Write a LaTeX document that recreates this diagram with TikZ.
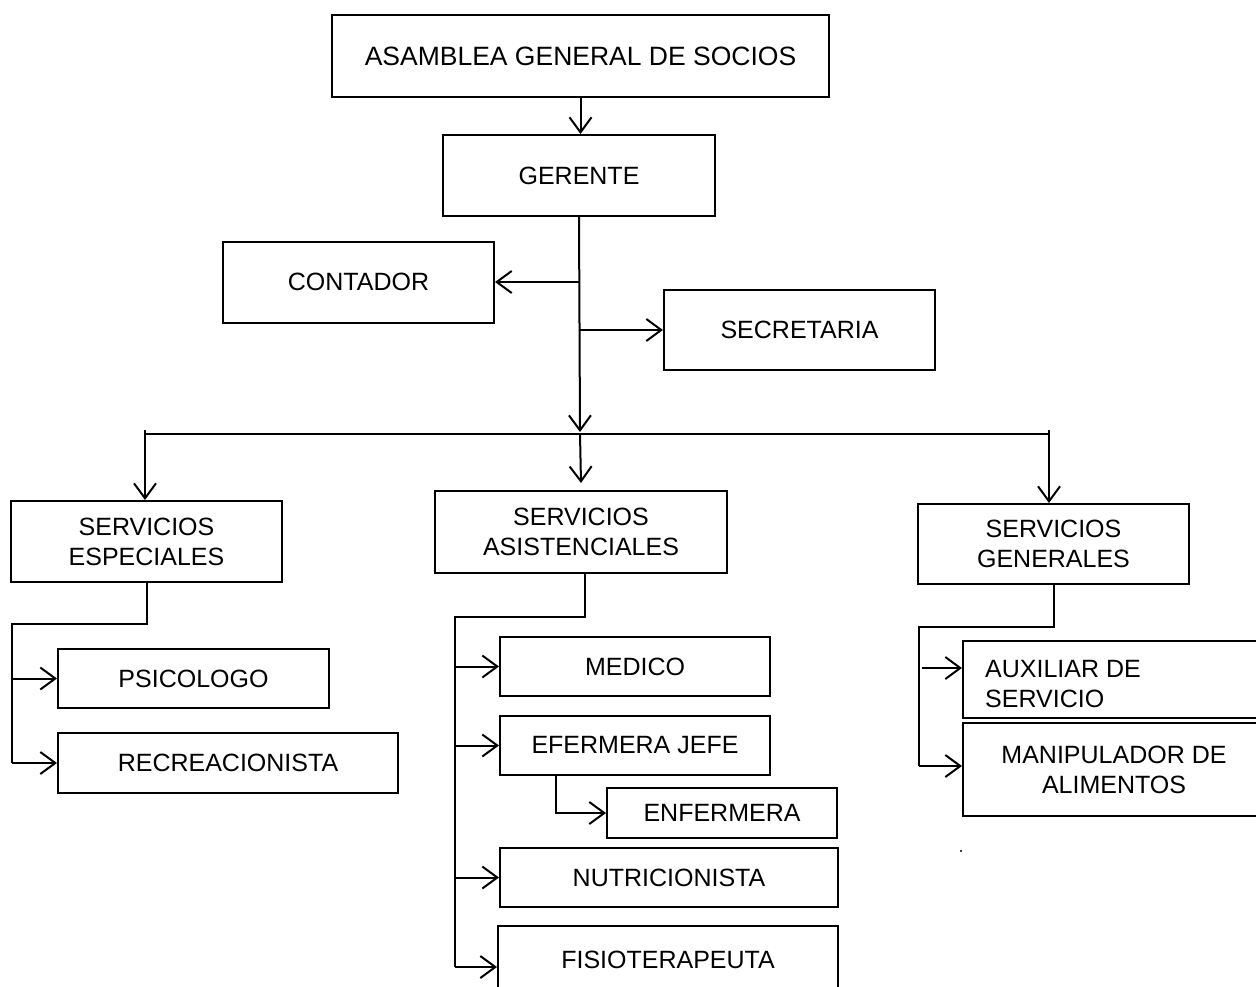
\documentclass[tikz,border=0pt]{standalone}
\usepackage{fontspec}
\setmainfont{Liberation Sans}
\usetikzlibrary{arrows.meta}
\tikzset{
  box/.style={draw, line width=2pt, inner sep=0pt, align=center, font=\fontsize{25}{30}\selectfont},
  txt/.style={inner sep=0pt, align=left, font=\fontsize{25}{30}\selectfont},
  conn/.style={line width=2pt},
  arr/.style={line width=2pt, -{Straight Barb[length=15pt,width=22pt]}},
}
\begin{document}
\begin{tikzpicture}[x=1pt,y=-1pt]
\useasboundingbox (0,0) rectangle (1256,986);
\clip (0,0) rectangle (1256,986);
\fill[white] (0,0) rectangle (1256,986);
% nodes
\node[box, minimum width=497, minimum height=82, font=\fontsize{26.5}{30}\selectfont] (asam) at (580.5,56) {ASAMBLEA GENERAL DE SOCIOS};
\node[box, minimum width=272, minimum height=81] (ger) at (579,175.5) {GERENTE};
\node[box, minimum width=271, minimum height=81] (cont) at (358.5,282) {CONTADOR};
\node[box, minimum width=271, minimum height=80] (sec) at (799.5,330) {SECRETARIA};
\node[box, minimum width=271, minimum height=81] (esp) at (146.5,541.5) {SERVICIOS\\ESPECIALES};
\node[box, minimum width=292, minimum height=82] (asis) at (581,532) {SERVICIOS\\ASISTENCIALES};
\node[box, minimum width=271, minimum height=80] (gen) at (1053.5,544) {SERVICIOS\\GENERALES};
\node[box, minimum width=271, minimum height=59] (psi) at (193.5,678.5) {PSICOLOGO};
\node[box, minimum width=340, minimum height=60] (rec) at (228,763) {RECREACIONISTA};
\node[box, minimum width=270, minimum height=59] (med) at (635,666.5) {MEDICO};
\node[box, minimum width=270, minimum height=59] (jefe) at (635,745.5) {EFERMERA JEFE};
\node[box, minimum width=230, minimum height=50] (enf) at (722,813) {ENFERMERA};
\node[box, minimum width=338, minimum height=59] (nut) at (669,877.5) {NUTRICIONISTA};
\node[box, minimum width=340, minimum height=68] (fis) at (668,960) {FISIOTERAPEUTA};
\node[box, minimum width=305, minimum height=77] (aux) at (1115.5,679.5) {};
\node[txt, anchor=west] (auxt) at (985,684) {AUXILIAR DE\\SERVICIO};
\node[box, minimum width=302, minimum height=93] (man) at (1114,769.5) {MANIPULADOR DE\\ALIMENTOS};
% coordinates
\coordinate (busC) at (580,432);
\coordinate (busL) at (145,430);
\coordinate (busR) at (1049,430);
\coordinate (busY) at (580,434);
\coordinate (espJ) at (12,624);
\coordinate (espE) at (12,763);
\coordinate (asisJ) at (455,617);
\coordinate (asisE) at (455,967);
\coordinate (genJ) at (919,627);
\coordinate (genE) at (919,766);
\coordinate (auxA) at (922,668);
% connectors
\draw[arr] (asam.south) -- (asam.south |- ger.north);
\draw[arr] (ger.south) -- (busC);
\draw[arr] (ger.south |- cont.east) -- (cont.east);
\draw[arr] (ger.south |- sec.west) -- (sec.west);
\draw[conn] (busL |- busY) -- (busR |- busY);
\draw[arr] (busL) -- (busL |- esp.north);
\draw[arr] (busY) -- ([yshift=7pt]asis.north);
\draw[arr] (busR) -- (busR |- gen.north);
% especiales
\draw[conn] (esp.south) |- (espJ) -- (espE);
\draw[arr] (espJ |- psi.west) -- (psi.west);
\draw[arr] (espE) -- (espE -| rec.west);
% asistenciales
\draw[conn] ([xshift=4pt]asis.south) |- (asisJ) -- (asisE);
\draw[arr] (asisJ |- med.west) -- (med.west);
\draw[arr] (asisJ |- jefe.west) -- (jefe.west);
\draw[arr] (asisJ |- nut.west) -- (nut.west);
\draw[arr] (asisE) -- (asisE -| fis.west);
\draw[arr] ([xshift=-79pt]jefe.south) |- (enf.west);
% generales
\draw[conn] (gen.south) |- (genJ) -- (genE);
\draw[arr] (auxA) -- (auxA -| aux.west);
\draw[arr] (genE) -- (genE -| man.west);
% stray dot
\fill (961,851) circle (1.2pt);
\end{tikzpicture}
\end{document}
